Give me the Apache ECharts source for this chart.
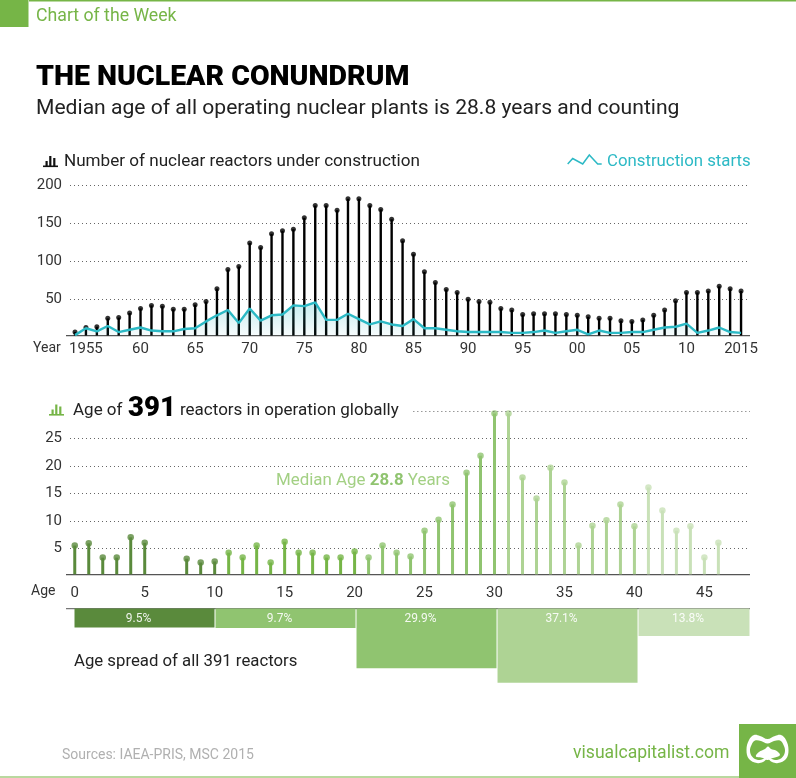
<!DOCTYPE html>
<html>
<head>
<meta charset="utf-8">
<style>
  html, body { margin: 0; padding: 0; background: #fff; }
  #main { width: 796px; height: 778px; }
</style>
<script src="https://cdn.jsdelivr.net/npm/echarts@6/dist/echarts.min.js"></script>
</head>
<body>
<div id="main"></div>
<script>
// reactors under construction, one value per year from 1954 to 2015
const firstYear = 1954;
const underConstruction = [
  7, 13, 14, 25, 26, 32, 38, 42, 41, 37, 37, 43, 47, 64, 89, 93, 124, 118, 136, 140, 142, 157,
  173, 173, 167, 182, 182, 173, 168, 155, 127, 109, 86, 72, 63, 59, 50, 47, 46, 38, 36, 30,
  31, 31, 31, 30, 29, 27, 25, 25, 22, 21, 23, 29, 36, 48, 59, 59, 61, 67, 64, 61
];
const constructionStarts = [
  3, 12, 8, 15, 7, 10, 13, 9, 8, 8, 11, 12, 21, 29, 36, 19, 38, 22, 29, 30, 42, 41,
  46, 23, 23, 31, 24, 17, 21, 17, 15, 24, 12, 12, 10, 8, 7, 7, 7, 7, 6, 6,
  7, 9, 6, 8, 10, 4, 9, 6, 6, 7, 7, 10, 13, 14, 18, 6, 9, 13, 7, 6
];
const yearTicks = [1955, 1960, 1965, 1970, 1975, 1980, 1985, 1990, 1995, 2000, 2005, 2010, 2015];
const yearLabels = ["1955", "60", "65", "70", "75", "80", "85", "90", "95", "00", "05", "10", "2015"];
const reactorTicks = [50, 100, 150, 200];

// reactors by age, index = age in years
const reactorsByAge = [
  5.5, 5.9, 3.3, 3.3, 7, 6, null, null, 3.1, 2.4, 2.6, 4.2, 3.3, 5.5, 2.4, 6.2, 4.2, 4.2, 3.3, 3.3, 4.4,
  3.3, 5.5, 4.2, 3.5, 8.2, 10.2, 13, 18.8, 21.9, 29.6, 29.6, 17.9, 14.1, 19.7, 17, 5.5, 9.1, 10.1, 13, 9,
  16.1, 11.9, 8.2, 9, 3.3, 6
];
const ageTicks = [0, 5, 10, 15, 20, 25, 30, 35, 40, 45];
const ageCountTicks = [5, 10, 15, 20, 25];

// age spread
const spreadFrom = [0, 10, 20, 30, 40];
const spreadTo = [10, 20, 30, 40, 47.94];
const spreadShare = [9.5, 9.7, 29.9, 37.1, 13.8];

const darkGreen = "#5a8a3c", midGreen = "#76b547", green = "#90c470", paleGreen = "#aed394", faintGreen = "#c9e1b8";
const spreadColors = [darkGreen, green, green, paleGreen, faintGreen];
const teal = "#2cb9c5";
const font = "Roboto";

function ageColor(age) {
  if (age <= 10) return darkGreen;
  if (age <= 20) return midGreen;
  if (age <= 30) return green;
  if (age <= 40) return paleGreen;
  return faintGreen;
}

const yearPoints = (list) => list.map((v, i) => [firstYear + i, v]);
const agePoints = reactorsByAge.map((v, i) => ({
  value: [i, v],
  itemStyle: { color: ageColor(i) },
}));

const dotted = { color: "#666", width: 1, type: [1, 3] };
const tickText = { fontFamily: font, fontSize: 15, color: "#333" };

function label(x, y, text, size, color, weight) {
  return {
    type: "text", x: x, y: y + 1.5, silent: true,
    style: {
      text: text, fill: color || "#222", fontFamily: font, fontSize: size,
      fontWeight: weight || "normal", textVerticalAlign: "middle",
    },
  };
}
function box(x, y, w, h, color) {
  return { type: "rect", silent: true, shape: { x: x, y: y, width: w, height: h }, style: { fill: color } };
}
function barsIcon(x, y, color) {
  return [
    box(x, y + 10.5, 15, 1.6, color),
    box(x + 2.5, y + 6, 2.2, 5, color),
    box(x + 6.2, y + 1, 2.2, 10, color),
    box(x + 10.2, y + 3, 2.2, 8, color),
  ];
}
function blob(points, color) {
  return { type: "polygon", silent: true, shape: { points: points, smooth: 0.4 }, style: { fill: color } };
}

var myChart = echarts.init(document.getElementById("main"), null, { renderer: "canvas" });

const option = {
  animation: false,
  backgroundColor: "#fff",
  grid: [
    { left: 70, right: 46, top: 185, height: 150.5 },
    { left: 70, right: 46, top: 411.3, height: 163 },
    { left: 74, right: 46, top: 608.5, height: 80 },
  ],
  xAxis: [
    {
      gridIndex: 0, type: "value", min: 1953.54, max: 2015.82,
      axisLine: { show: false }, splitLine: { show: false },
      axisTick: { show: false, customValues: yearTicks },
      axisLabel: {
        ...tickText, customValues: yearTicks, margin: 6,
        formatter: (v) => yearLabels[yearTicks.indexOf(v)],
      },
    },
    {
      gridIndex: 1, type: "value", min: -0.34, max: 48.26,
      axisLine: { show: false }, splitLine: { show: false },
      axisTick: { show: false, customValues: ageTicks },
      axisLabel: { ...tickText, customValues: ageTicks, margin: 11 },
    },
    { gridIndex: 2, type: "value", min: 0, max: 47.94, show: false },
  ],
  yAxis: [
    {
      gridIndex: 0, type: "value", min: 2.5, max: 200,
      axisLine: { show: false },
      axisTick: { show: false, customValues: reactorTicks },
      axisLabel: { ...tickText, customValues: reactorTicks, margin: 8 },
      splitLine: { show: true, lineStyle: dotted },
    },
    {
      gridIndex: 1, type: "value", min: 0.25, max: 30,
      axisLine: { show: false },
      axisTick: { show: false, customValues: ageCountTicks },
      axisLabel: { ...tickText, customValues: ageCountTicks, margin: 8 },
      splitLine: { show: true, lineStyle: dotted },
    },
    { gridIndex: 2, type: "value", min: 0, max: 40, inverse: true, show: false },
  ],
  series: [
    {
      name: "Under construction", type: "bar", xAxisIndex: 0, yAxisIndex: 0,
      data: yearPoints(underConstruction), barWidth: 2.4, itemStyle: { color: "#000" }, z: 3,
    },
    {
      name: "Under construction dots", type: "scatter", xAxisIndex: 0, yAxisIndex: 0,
      data: yearPoints(underConstruction), symbolSize: 5, itemStyle: { color: "#000" }, z: 3,
    },
    {
      name: "Construction starts", type: "line", xAxisIndex: 0, yAxisIndex: 0,
      data: yearPoints(constructionStarts), showSymbol: false, z: 4,
      lineStyle: { color: teal, width: 2.4 },
      areaStyle: {
        color: new echarts.graphic.LinearGradient(0, 0, 0, 1, [
          { offset: 0, color: "rgba(44,185,197,0.38)" },
          { offset: 1, color: "rgba(44,185,197,0.06)" },
        ]),
      },
    },
    {
      name: "Age stems", type: "bar", xAxisIndex: 1, yAxisIndex: 1,
      data: agePoints, barWidth: 3, z: 3,
      markLine: {
        silent: true, symbol: "none", label: { show: false },
        lineStyle: dotted,
        data: [[{ coord: [24.2, 30] }, { coord: [48.26, 30] }]],
      },
    },
    {
      name: "Age dots", type: "scatter", xAxisIndex: 1, yAxisIndex: 1,
      data: agePoints, symbolSize: 6.5, z: 3,
    },
    {
      name: "Age spread", type: "custom", xAxisIndex: 2, yAxisIndex: 2,
      data: spreadShare.map((v, i) => [spreadFrom[i], spreadTo[i], v]),
      encode: { x: [0, 1], y: 2 },
      renderItem: (params, api) => {
        const a = api.coord([api.value(0), 0]);
        const b = api.coord([api.value(1), api.value(2)]);
        return {
          type: "group",
          children: [
            {
              type: "rect",
              shape: { x: a[0] + 0.5, y: a[1], width: b[0] - a[0] - 1, height: b[1] - a[1] },
              style: { fill: spreadColors[params.dataIndex] },
            },
            {
              type: "text", x: (a[0] + b[0]) / 2 - 6, y: a[1] + 10,
              style: {
                text: api.value(2).toFixed(1) + "%", fill: "rgba(255,255,255,0.9)",
                fontFamily: font, fontSize: 12, textAlign: "center", textVerticalAlign: "middle",
              },
            },
          ],
        };
      },
    },
  ],
  graphic: [
    // header
    box(29, 0, 767, 1.5, midGreen),
    box(0, 0, 28.5, 27, midGreen),
    label(36, 15, "Chart of the Week", 17.7, midGreen),
    label(36, 76, "THE NUCLEAR CONUNDRUM", 28.5, "#000", 900),
    label(36, 107, "Median age of all operating nuclear plants is 28.8 years and counting", 21.1, "#222"),

    // first panel headings
    ...barsIcon(43, 155, "#111"),
    label(64, 160, "Number of nuclear reactors under construction", 17.1),
    {
      type: "polyline", silent: true,
      shape: { points: [[567.7, 164], [572.7, 158.5], [582.7, 164], [589.3, 155], [597.7, 164], [601.7, 164]] },
      style: { stroke: teal, lineWidth: 1.5, fill: null },
    },
    label(607, 160, "Construction starts", 16.8, teal),
    box(66, 335, 684, 1.2, "#555"),
    label(33, 347, "Year", 14, "#333"),

    // second panel headings
    ...barsIcon(49, 403.5, midGreen),
    label(73, 409, "Age of", 17),
    label(128, 408, "391", 27.5, "#000", 900),
    label(180, 409, "reactors in operation globally", 17),
    {
      type: "text", x: 276, y: 480.5, silent: true,
      style: {
        text: "{a|Median Age }{b|28.8}{a| Years}", textVerticalAlign: "middle",
        rich: {
          a: { fontFamily: font, fontSize: 16.9, fill: "#a3d084", color: "#a3d084" },
          b: { fontFamily: font, fontSize: 16.9, fontWeight: "bold", fill: "#90c470", color: "#90c470" },
        },
      },
    },
    box(66, 574, 684, 1.2, "#555"),
    label(31, 590, "Age", 14, "#333"),

    // third panel
    box(66, 608, 684, 1.2, "#777"),
    label(74, 660, "Age spread of all 391 reactors", 16.75),

    // footer
    label(62, 754, "Sources: IAEA-PRIS, MSC 2015", 14, "#b0b0b0"),
    label(573, 752, "visualcapitalist.com", 17.6, midGreen),
    box(0, 776, 740, 2, "#b9d89f"),
    box(739, 724, 57, 54, midGreen),
    // logo
    blob([[767.5, 739], [760, 736], [754, 735], [749, 740], [746.5, 750], [749, 759], [757, 763], [763, 762], [767.5, 759], [772, 762], [778, 763], [786, 759], [788.5, 750], [786, 740], [781, 735], [775, 736]], "#fff"),
    blob([[767.5, 743.5], [761, 741], [755, 740.5], [751.5, 745], [750, 751], [752.5, 757], [758, 760], [763, 759], [767.5, 756.5], [772, 759], [777, 760], [782.5, 757], [785, 751], [783.5, 745], [780, 740.5], [774, 741]], midGreen),
    blob([[756, 756.5], [759, 752], [765, 749], [768, 746.5], [771, 749], [776, 750.5], [780, 755], [775, 757.5], [771, 758.5], [767.5, 760], [763, 758]], "#fff"),
  ],
};

myChart.setOption(option);
</script>
</body>
</html>
